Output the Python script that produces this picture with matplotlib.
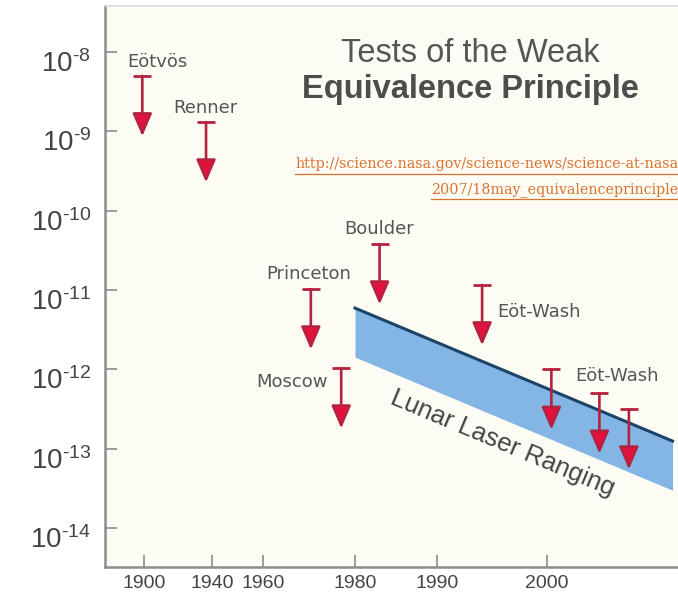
import matplotlib
matplotlib.use("Agg")
import matplotlib.pyplot as plt
import numpy as np
from matplotlib.lines import Line2D
from matplotlib.ticker import FixedLocator, NullLocator, FuncFormatter
from matplotlib.transforms import ScaledTranslation

plt.rcParams['mathtext.fontset'] = 'custom'
plt.rcParams['mathtext.rm'] = 'Liberation Sans'
plt.rcParams['mathtext.it'] = 'Liberation Sans'
plt.rcParams['mathtext.default'] = 'regular'

# upper limits on the violation parameter (eta), one arrow per experiment
experiments = ['Eötvös', 'Renner', 'Princeton', 'Moscow', 'Boulder',
               'Eöt-Wash', 'Eöt-Wash', '', '']
years = [1899, 1936.5, 1970.4, 1977, 1983, 1994.1, 2000.4, 2004.8, 2007.5]
limits = [5.0e-9, 1.31e-9, 1.03e-11, 1.04e-12, 3.8e-11, 1.16e-11,
          1.0e-12, 5.0e-13, 3.16e-13]

# lunar laser ranging band
llr_years = [1980, 2011.5]
llr_upper = [5.93e-12, 1.25e-13]
llr_lower = [1.43e-12, 3.0e-14]

xticks = [1900, 1940, 1960, 1980, 1990, 2000]
yticks = [1e-8, 1e-9, 1e-10, 1e-11, 1e-12, 1e-13, 1e-14]

# the time axis of the original is stretched piecewise
year_knots = np.array([1877, 1900, 1940, 1960, 1980, 1990, 2000, 2012])
pos_knots = np.array([0, 39, 107, 158, 250, 332, 442, 573], dtype=float)


def fwd(x):
    return np.interp(x, year_knots, pos_knots)


def inv(p):
    return np.interp(p, pos_knots, year_knots)


fig = plt.figure(figsize=(6.78, 5.92), dpi=100)
fig.patch.set_facecolor('white')
ax = fig.add_axes([105 / 678, 25 / 592, 573 / 678, 561 / 592])
ax.set_facecolor('#fdfcf4')

ax.set_xscale('function', functions=(fwd, inv))
ax.set_yscale('log')
ax.set_xlim(1877, 2012)
ax.set_ylim(10 ** -14.49, 10 ** -7.42)

# band + its upper edge
ax.fill_between(llr_years, llr_upper, llr_lower, color='#84b6e5', lw=0, zorder=1)
ax.plot(llr_years, llr_upper, color='#1c4467', lw=2.2, zorder=2)

# arrows
arrow_len = 10 ** -0.76
red_line = '#b3233f'
red_head = '#e3123c'
for yr, lim in zip(years, limits):
    ax.annotate('', xy=(yr, lim * arrow_len), xytext=(yr, lim),
                arrowprops=dict(arrowstyle='-|>,head_length=0.7,head_width=0.3',
                                mutation_scale=20, lw=1.9, ec=red_line, fc=red_head,
                                shrinkA=0, shrinkB=0), zorder=4)
    ax.plot([yr], [lim], marker='_', ms=12.5, mew=2.0, color=red_line, zorder=4)

# experiment labels, offsets in pixels from the top of each arrow
label_style = [(15, 14, 'center'), (-1, 14, 'center'), (-2, 15, 'center'),
               (-13, -14, 'right'), (0, 15, 'center'), (15, -27, 'left'),
               (24, -7, 'left'), (0, 0, 'center'), (0, 0, 'center')]
for name, yr, lim, (dx, dy, ha) in zip(experiments, years, limits, label_style):
    if not name:
        continue
    ax.annotate(name, xy=(yr, lim), xytext=(dx, dy), textcoords='offset pixels',
                ha=ha, va='center', fontsize=13, color='#555555',
                family='DejaVu Sans', zorder=5)

ax.text(1996, 1.17e-13, 'Lunar Laser Ranging', rotation=-22.7,
        rotation_mode='anchor', ha='center', va='center', fontsize=18.5,
        color='#444444', family='Liberation Sans', zorder=5)

# axes cosmetics
ax.xaxis.set_major_locator(FixedLocator(xticks))
ax.xaxis.set_minor_locator(NullLocator())
ax.xaxis.set_major_formatter(FuncFormatter(lambda v, p: '%d' % round(v)))
ax.yaxis.set_major_locator(FixedLocator(yticks))
ax.yaxis.set_minor_locator(NullLocator())
ax.yaxis.set_major_formatter(
    FuncFormatter(lambda v, p: r'$10^{\text{-%d}}$' % -round(np.log10(v))))

ax.tick_params(axis='both', direction='in', length=8.6, width=1.2,
               color='#8c8c8c', labelcolor='#444444')
ax.tick_params(axis='x', labelsize=14, pad=6)
ax.tick_params(axis='y', labelsize=20, pad=10)
for lbl in ax.get_xticklabels():
    lbl.set_family('Liberation Sans')
for lbl in ax.get_yticklabels():
    lbl.set_family('Liberation Sans')
    lbl.set_transform(lbl.get_transform() +
                      ScaledTranslation(0, -0.09, fig.dpi_scale_trans))

for side in ('left', 'bottom'):
    ax.spines[side].set_color('#8c8c8c')
    ax.spines[side].set_linewidth(1.8)
ax.spines['top'].set_color('#dcdcdc')
ax.spines['top'].set_linewidth(1.2)
ax.spines['right'].set_visible(False)

# title
fig.text(470 / 678, 1 - 62 / 592, 'Tests of the Weak', ha='center',
         va='baseline', fontsize=23.5, color='#555555', family='Liberation Sans')
fig.text(470 / 678, 1 - 98 / 592, 'Equivalence Principle', ha='center',
         va='baseline', fontsize=23.5, fontweight='bold', color='#4d4d4d',
         family='Liberation Sans')

# source link, underlined (runs off the right edge like the original)
url_color = '#d9722e'
url_lines = [('http://science.nasa.gov/science-news/science-at-nasa/', 168),
             ('2007/18may_equivalenceprinciple/', 193)]
url_texts = []
for line, base in url_lines:
    t = fig.text(683 / 678, 1 - base / 592, line, ha='right', va='baseline',
                 fontsize=10.3, color=url_color, family='DejaVu Serif')
    url_texts.append((t, base))

fig.canvas.draw()
renderer = fig.canvas.get_renderer()
for t, base in url_texts:
    bb = t.get_window_extent(renderer)
    y = 1 - (base + 5.5) / 592
    fig.add_artist(Line2D([bb.x0 / 678, bb.x1 / 678], [y, y],
                          color=url_color, lw=0.9))

fig.savefig('out.png', dpi=100, facecolor=fig.get_facecolor())
